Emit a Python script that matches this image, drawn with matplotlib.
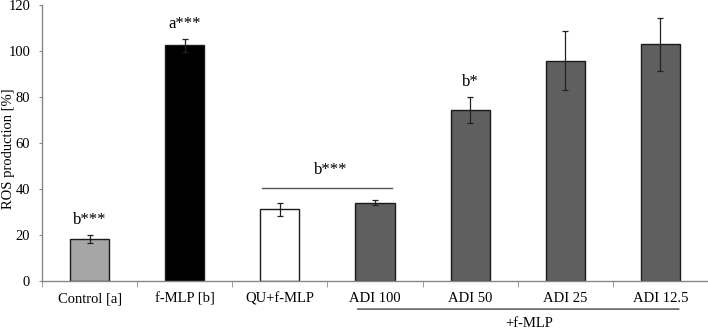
import matplotlib
matplotlib.use("Agg")
import matplotlib.pyplot as plt
import numpy as np

categories = ["Control [a]", "f-MLP [b]", "QU+f-MLP", "ADI 100", "ADI 50", "ADI 25", "ADI 12.5"]
values = [18.3, 102.4, 31.2, 34.0, 74.5, 95.8, 102.9]
errors = [1.7, 2.9, 2.8, 1.1, 5.6, 12.9, 11.6]
colors = ["#a6a6a6", "#000000", "#ffffff", "#5f5f5f", "#5f5f5f", "#5f5f5f", "#5f5f5f"]
sig_labels = ["b***", "a***", None, None, "b*", None, None]
group_label = "b***"
yticks = [0, 20, 40, 60, 80, 100, 120]

plt.rcParams['font.family'] = ['Liberation Serif', 'DejaVu Serif']

fig = plt.figure(figsize=(7.08, 3.29), dpi=100)
ax = fig.add_axes([42/708, 48/329, 666/708, 276/329])

x = np.arange(len(categories))
ax.bar(x, values, width=0.41, color=colors, edgecolor="#1a1a1a", linewidth=1.0, zorder=2)
ax.errorbar(x, values, yerr=errors, fmt="none", ecolor="#222222", elinewidth=0.9,
            capsize=2, capthick=0.9, zorder=3)

ax.set_xlim(-0.5, len(categories) - 0.5)
ax.set_ylim(0, 120)
ax.set_yticks(yticks)
ax.tick_params(axis="y", labelsize=10.5, direction="out", length=2.5, color="#888888", pad=6)
ax.set_xticks(x)
ax.set_xticklabels(categories, fontsize=10.5)
ax.tick_params(axis="x", which="major", length=0, pad=8)
ax.set_xticks(np.arange(-0.5, len(categories), 1.0), minor=True)
ax.tick_params(axis="x", which="minor", length=4, color="#888888", direction="out")
for s in ["top", "right"]:
    ax.spines[s].set_visible(False)
for s in ["left", "bottom"]:
    ax.spines[s].set_color("#888888")
    ax.spines[s].set_linewidth(1.0)

fig.text(9/708, 1 - 149/329, "ROS production [%]", rotation=90, ha="center", va="center",
         fontsize=10.5)

for i, lab in enumerate(sig_labels):
    if lab:
        ax.text(x[i], values[i] + errors[i] + 3, lab, ha="center", va="bottom", fontsize=12)

# group line over QU+f-MLP and ADI 100
ax.plot([x[2] - 0.184, x[3] + 0.18], [40.4, 40.4], color="#555555", lw=1.0, clip_on=False)
ax.text((x[2] + x[3]) / 2 + 0.03, 45, group_label, ha="center", va="bottom", fontsize=12)

# +f-MLP line below axis
ax.annotate("", xy=(x[3] - 0.184, -12.2), xytext=(x[6] + 0.195, -12.2), xycoords="data",
            arrowprops=dict(arrowstyle="-", color="#444444", lw=1.0, shrinkA=0, shrinkB=0),
            annotation_clip=False)
ax.text(4.616, -18.5, "+f-MLP", ha="center", va="center", fontsize=10.5, clip_on=False)

fig.savefig("out.png", dpi=100)
